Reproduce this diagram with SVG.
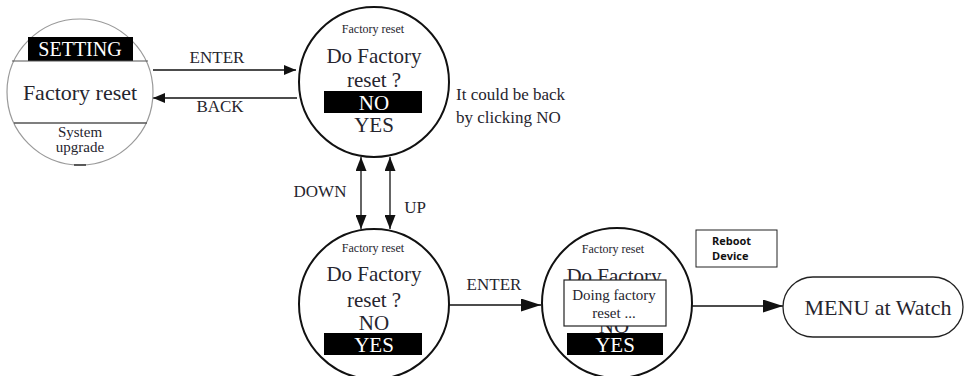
<svg xmlns="http://www.w3.org/2000/svg" width="966" height="376" viewBox="0 0 966 376">
<style>
.t{font-family:"Liberation Serif","Times New Roman",serif;fill:#26252e;text-anchor:middle}
.w{font-family:"Liberation Serif","Times New Roman",serif;fill:#fff;text-anchor:middle}
.c{fill:#fff;stroke:#111;stroke-width:2}
.ln{stroke:#111;stroke-width:1.3;fill:none}
.blk{fill:#000}
</style>
<defs>
<marker id="ah" markerUnits="userSpaceOnUse" markerWidth="12" markerHeight="10" refX="12" refY="5" orient="auto-start-reverse"><path d="M0,0 L12,5 L0,10 z" fill="#111"/></marker>
<marker id="ahb" markerUnits="userSpaceOnUse" markerWidth="20" markerHeight="13" refX="20" refY="6.5" orient="auto-start-reverse"><path d="M0,0 L20,6.5 L0,13 z" fill="#111"/></marker>
<marker id="ahv" markerUnits="userSpaceOnUse" markerWidth="14" markerHeight="11" refX="14" refY="5.5" orient="auto-start-reverse"><path d="M0,0 L14,5.5 L0,11 z" fill="#111"/></marker>
<clipPath id="belowbox"><rect x="540" y="326" width="160" height="60"/></clipPath>
<clipPath id="abovebox"><rect x="540" y="220" width="160" height="60"/></clipPath>
</defs>
<rect width="966" height="376" fill="#fff"/>

<g id="connectors">
<line class="ln" x1="153" y1="70" x2="296" y2="70" marker-end="url(#ah)"/>
<line class="ln" x1="297" y1="98" x2="153" y2="98" marker-end="url(#ah)"/>
<line class="ln" x1="361" y1="157" x2="361" y2="229" marker-start="url(#ahv)" marker-end="url(#ahv)"/>
<line class="ln" x1="390" y1="157" x2="390" y2="229" marker-start="url(#ahv)" marker-end="url(#ahv)"/>
<line class="ln" x1="449" y1="305" x2="541" y2="305" marker-end="url(#ahb)"/>
<line class="ln" x1="692" y1="306" x2="783" y2="306" marker-end="url(#ahb)"/>
<text class="t" x="217" y="63" font-size="17">ENTER</text>
<text class="t" x="220" y="112" font-size="17">BACK</text>
<text class="t" x="320" y="197" font-size="17">DOWN</text>
<text class="t" x="415" y="213" font-size="17">UP</text>
<text class="t" x="494" y="290" font-size="17">ENTER</text>
</g>

<g id="setting-menu">
<circle cx="80" cy="92" r="73" fill="#fff" stroke="#9a9a9a" stroke-width="1.2"/>
<rect class="blk" x="28" y="37" width="105" height="24"/>
<text class="w" x="80" y="56" font-size="20">SETTING</text>
<line x1="12" y1="61" x2="148" y2="61" stroke="#555" stroke-width="1.2"/>
<text class="t" x="80" y="100" font-size="22">Factory reset</text>
<line x1="14" y1="123" x2="147" y2="123" stroke="#555" stroke-width="1.5"/>
<text class="t" x="80" y="137" font-size="15">System</text>
<text class="t" x="80" y="152" font-size="15">upgrade</text>
<line x1="74" y1="165" x2="86" y2="165" stroke="#333" stroke-width="1.5"/>
</g>

<g id="confirm-no">
<circle class="c" cx="374" cy="82" r="75"/>
<text class="t" x="373" y="33" font-size="12">Factory reset</text>
<text class="t" x="374" y="63" font-size="21">Do Factory</text>
<text class="t" x="374" y="87" font-size="21">reset ?</text>
<rect class="blk" x="324" y="91" width="98" height="22"/>
<text class="w" x="374" y="110" font-size="21">NO</text>
<text class="t" x="374" y="132" font-size="21">YES</text>
</g>

<g id="note">
<text class="t" x="456" y="100" font-size="17" style="text-anchor:start">It could be back</text>
<text class="t" x="456" y="123" font-size="17" style="text-anchor:start">by clicking NO</text>
</g>

<g id="confirm-yes">
<circle class="c" cx="374" cy="304" r="75"/>
<text class="t" x="373" y="252" font-size="12">Factory reset</text>
<text class="t" x="374" y="281" font-size="21">Do Factory</text>
<text class="t" x="374" y="307" font-size="21">reset ?</text>
<text class="t" x="374" y="330" font-size="21">NO</text>
<rect class="blk" x="324" y="333" width="98" height="22"/>
<text class="w" x="374" y="352" font-size="21">YES</text>
</g>

<g id="doing-reset">
<circle class="c" cx="617" cy="303" r="75"/>
<text class="t" x="613" y="253" font-size="12">Factory reset</text>
<text class="t" x="614" y="283" font-size="21" clip-path="url(#abovebox)">Do Factory</text>
<text class="t" x="614" y="333" font-size="21" clip-path="url(#belowbox)">NO</text>
<rect class="blk" x="567" y="333" width="96" height="22"/>
<text class="w" x="615" y="352" font-size="21">YES</text>
<rect x="564" y="280" width="102" height="46" fill="#fff" stroke="#222" stroke-width="1.2"/>
<text class="t" x="614" y="300" font-size="15">Doing factory</text>
<text class="t" x="614" y="318" font-size="15">reset ...</text>
</g>

<g id="reboot">
<rect x="696" y="230" width="81" height="37" fill="#fff" stroke="#222" stroke-width="1"/>
<text x="712" y="245" font-family="'Open Sans','DejaVu Sans',sans-serif" font-weight="bold" font-size="11" fill="#111">Reboot</text>
<text x="712" y="260" font-family="'Open Sans','DejaVu Sans',sans-serif" font-weight="bold" font-size="11" fill="#111">Device</text>
</g>

<g id="menu-watch">
<rect x="783" y="277" width="180" height="60" rx="30" fill="#fff" stroke="#222" stroke-width="1.3"/>
<text class="t" x="878" y="315" font-size="22">MENU at Watch</text>
</g>
</svg>
